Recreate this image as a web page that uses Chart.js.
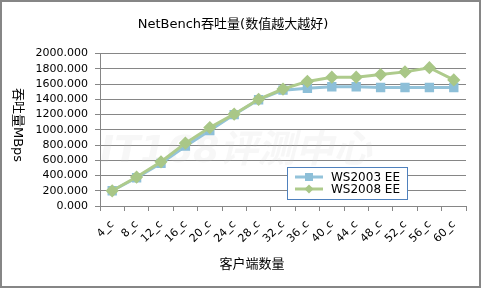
<!DOCTYPE html>
<html>
<head>
<meta charset="utf-8">
<script src="https://cdn.jsdelivr.net/npm/chart.js@4/dist/chart.umd.min.js"></script>
<style>
  html, body { margin: 0; padding: 0; background: #fff; }
  #wrap { width: 481px; height: 289px; }
</style>
</head>
<body>
<div id="wrap"><canvas id="chart" width="481" height="289"></canvas></div>
<script>
const categories = ['4_c', '8_c', '12_c', '16_c', '20_c', '24_c', '28_c', '32_c',
  '36_c', '40_c', '44_c', '48_c', '52_c', '56_c', '60_c'];
const ws2003 = [200, 370, 560, 785, 990, 1200, 1395, 1520, 1545, 1565, 1565, 1555, 1555, 1555, 1555];
const ws2008 = [200, 380, 580, 825, 1030, 1205, 1400, 1535, 1635, 1690, 1690, 1725, 1760, 1815, 1655];
const seriesNames = ['WS2003 EE', 'WS2008 EE'];
const yTicks = [0, 200, 400, 600, 800, 1000, 1200, 1400, 1600, 1800, 2000];

const chartTitle = 'NetBench吞吐量(数值越大越好)';
const yTitle = '吞吐量MBps';
const xTitle = '客户端数量';

const FONT = '"DejaVu Sans", "Noto Sans CJK SC", sans-serif';
const BLUE = '#93C3DA';
const GREEN = '#AECB8C';

// frame, watermark, axis titles and the boxed legend
const decor = {
  id: 'decor',
  beforeDatasetsDraw(chart) {
    const { ctx, chartArea } = chart;
    ctx.save();
    ctx.font = 'italic bold 38px ' + FONT;
    ctx.fillStyle = 'rgba(200,200,200,0.14)';
    ctx.textAlign = 'left';
    ctx.textBaseline = 'middle';
    ctx.fillText('IT168评测中心', chartArea.left, 152);
    ctx.restore();
  },
  afterDraw(chart) {
    const { ctx } = chart;
    ctx.save();
    ctx.strokeStyle = '#868686';
    ctx.lineWidth = 2;
    ctx.strokeRect(1, 1, 479, 286);

    ctx.fillStyle = '#000';
    ctx.font = '13px ' + FONT;
    ctx.textAlign = 'center';
    ctx.textBaseline = 'middle';
    ctx.fillText(xTitle, 252, 265);

    ctx.translate(17, 125);
    ctx.rotate(Math.PI / 2);
    ctx.fillText(yTitle, 0, 0);
    ctx.restore();

    // legend
    ctx.save();
    const bx = 287.5, by = 167.5, bw = 120, bh = 32;
    ctx.fillStyle = '#fff';
    ctx.fillRect(bx, by, bw, bh);
    ctx.strokeStyle = '#4F81BD';
    ctx.lineWidth = 1;
    ctx.strokeRect(bx, by, bw, bh);
    ctx.font = '12px ' + FONT;
    ctx.textAlign = 'left';
    ctx.textBaseline = 'middle';
    chart.data.datasets.forEach((ds, i) => {
      const y = 177 + i * 12;
      ctx.strokeStyle = ds.borderColor;
      ctx.lineWidth = 3;
      ctx.beginPath();
      ctx.moveTo(295, y);
      ctx.lineTo(323, y);
      ctx.stroke();
      ctx.fillStyle = ds.pointBackgroundColor;
      if (ds.pointStyle === 'rect') {
        ctx.fillRect(305, y - 4, 8, 8);
      } else {
        ctx.beginPath();
        ctx.moveTo(309, y - 4.5);
        ctx.lineTo(313.5, y);
        ctx.lineTo(309, y + 4.5);
        ctx.lineTo(304.5, y);
        ctx.closePath();
        ctx.fill();
      }
      ctx.fillStyle = '#000';
      ctx.fillText(ds.label, 331, y + 0.5);
    });
    ctx.restore();
  }
};

new Chart(document.getElementById('chart'), {
  type: 'line',
  data: {
    labels: categories,
    datasets: [
      {
        label: seriesNames[0],
        data: ws2003,
        borderColor: BLUE,
        backgroundColor: BLUE,
        pointBackgroundColor: '#8DBFD8',
        pointBorderColor: '#8DBFD8',
        pointStyle: 'rect',
        pointRadius: 4.5,
        borderWidth: 3,
        order: 1
      },
      {
        label: seriesNames[1],
        data: ws2008,
        borderColor: GREEN,
        backgroundColor: GREEN,
        pointBackgroundColor: '#A9C787',
        pointBorderColor: '#A9C787',
        pointStyle: 'rectRot',
        pointRadius: 4.5,
        borderWidth: 3,
        order: 0
      }
    ]
  },
  options: {
    responsive: false,
    animation: false,
    layout: { padding: { top: 0, left: 0, right: 15, bottom: 0 } },
    plugins: {
      legend: { display: false },
      tooltip: { enabled: false },
      title: {
        display: true,
        text: chartTitle,
        color: '#000',
        font: { family: FONT, size: 13, weight: 'normal' },
        padding: { top: 17, bottom: 21 }
      }
    },
    scales: {
      x: {
        offset: true,
        afterFit(scale) { scale.height = 83; },
        grid: {
          offset: true,
          drawOnChartArea: false,
          drawTicks: true,
          tickLength: 5,
          color: '#868686'
        },
        border: { color: '#868686' },
        ticks: {
          minRotation: 45,
          maxRotation: 45,
          autoSkip: false,
          padding: 7,
          color: '#000',
          font: { family: FONT, size: 11 }
        }
      },
      y: {
        min: 0,
        max: 2000,
        afterFit(scale) { scale.width = 100; },
        afterBuildTicks(scale) { scale.ticks = yTicks.map(v => ({ value: v })); },
        grid: { color: '#868686', tickLength: 5 },
        border: { color: '#868686' },
        ticks: {
          autoSkip: false,
          padding: 7,
          color: '#000',
          font: { family: FONT, size: 11 },
          callback: v => Number(v).toFixed(3)
        }
      }
    }
  },
  plugins: [decor]
});
</script>
</body>
</html>
